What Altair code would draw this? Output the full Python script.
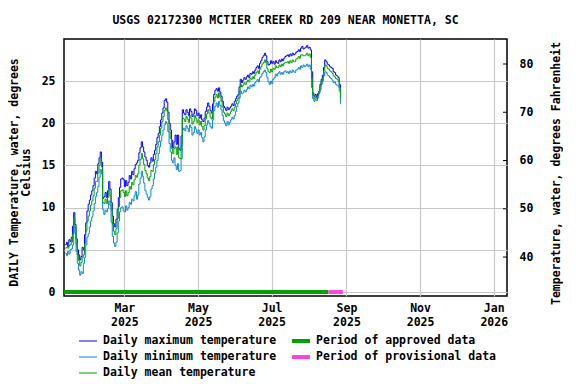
import altair as alt
import pandas as pd

# ---------------- data ----------------
first_day = "2025-01-11"
tmax = [5.6, 5.9, 5.4, 6.2, 6.0, 6.5, 7.8, 9.4, 8.0, 6.3,
        5.0, 4.4, 3.8, 4.2, 5.3, 5.0, 6.8, 8.2, 9.6, 10.4,
        10.9, 11.5, 12.0, 12.6, 13.5, 14.3, 14.0, 15.2, 15.9, 16.6,
        15.4, 11.1, 11.3, 11.8, 11.2, 12.0, 13.1, 12.2, 10.6, 9.0,
        8.1, 7.7, 8.6, 9.8, 11.2, 12.4, 13.4, 13.5, 13.3, 12.5,
        13.2, 12.6, 13.0, 13.8, 13.4, 14.3, 13.9, 14.6, 15.1, 15.3,
        15.6, 16.5, 17.1, 17.8, 17.2, 16.6, 16.0, 15.6, 15.0, 14.8,
        15.3, 15.9, 15.5, 16.3, 16.8, 17.5, 18.3, 18.8, 19.6, 20.4,
        21.2, 21.8, 22.7, 22.9, 22.5, 21.3, 20.0, 19.2, 18.0, 17.1,
        17.8, 18.6, 17.5, 18.6, 17.0, 16.8, 18.5, 21.6, 21.2, 21.0,
        21.6, 21.3, 20.9, 21.7, 21.4, 20.8, 21.1, 21.7, 21.5, 20.9,
        21.2, 20.6, 21.0, 20.4, 20.2, 20.6, 21.4, 21.9, 22.4, 22.0,
        21.5, 21.2, 22.3, 23.4, 23.9, 24.1, 23.8, 24.2, 23.7, 23.2,
        22.6, 22.0, 21.8, 21.5, 21.9, 21.6, 21.8, 22.0, 22.3, 22.1,
        22.6, 22.9, 23.2, 23.4, 24.3, 25.2, 24.8, 25.1, 25.4, 25.2,
        25.5, 25.7, 25.4, 25.9, 25.8, 26.1, 25.9, 26.3, 26.6, 26.8,
        26.5, 27.1, 27.4, 27.8, 28.0, 28.3, 28.0, 27.3, 26.9, 27.0,
        27.4, 27.1, 27.3, 27.0, 27.4, 27.2, 27.1, 27.5, 27.3, 27.6,
        27.4, 27.7, 27.9, 28.0, 28.1, 27.9, 28.2, 28.0, 28.3, 28.1,
        28.2, 28.4, 28.5, 28.7, 28.5, 28.9, 29.1, 28.8, 28.9, 29.0,
        29.2, 28.9, 29.0, 28.7, 26.1, 23.6, 23.2, 23.4, 23.1, 23.5,
        23.8, 24.6, 25.2, 25.7, 26.6, 27.5, 27.3, 27.0, 26.9, 26.7,
        26.6, 26.5, 26.1, 26.0, 25.7, 25.6, 25.4, 24.6, 23.8]
tmin = [4.6, 4.3, 4.8, 4.5, 5.0, 5.1, 5.6, 7.7, 6.9, 4.8,
        3.4, 2.6, 2.0, 2.4, 2.2, 3.4, 4.1, 5.6, 6.5, 6.9,
        7.7, 8.4, 8.9, 9.6, 10.5, 11.3, 11.8, 12.5, 13.6, 14.5,
        14.0, 9.8, 9.2, 9.7, 9.5, 9.9, 10.8, 10.3, 8.3, 6.6,
        5.8, 5.4, 5.9, 7.0, 8.4, 9.5, 10.0, 10.1, 9.6, 9.5,
        10.2, 9.7, 10.0, 10.6, 10.4, 11.0, 10.8, 11.4, 11.9, 11.0,
        11.5, 12.8, 13.5, 14.3, 13.7, 12.9, 12.0, 11.6, 11.2, 10.9,
        11.3, 12.2, 12.6, 13.4, 14.1, 14.8, 15.6, 16.4, 17.2, 17.9,
        18.6, 19.2, 19.8, 20.2, 20.0, 19.0, 17.6, 16.6, 15.6, 15.3,
        15.9, 15.0, 14.5, 15.2, 14.3, 14.4, 15.8, 19.2, 19.4, 19.1,
        19.7, 19.4, 19.0, 19.8, 19.5, 18.6, 18.9, 19.6, 19.3, 18.8,
        19.2, 18.6, 18.9, 18.3, 17.8, 18.4, 19.2, 19.8, 20.3, 20.0,
        19.6, 19.4, 20.4, 21.5, 22.0, 22.4, 21.9, 22.6, 22.1, 21.6,
        20.9, 20.3, 20.0, 19.7, 20.2, 19.8, 20.1, 20.4, 20.7, 20.5,
        20.9, 21.4, 22.0, 22.4, 23.0, 23.8, 23.5, 23.6, 23.9, 23.7,
        24.0, 24.3, 24.1, 24.5, 24.3, 24.6, 24.4, 24.8, 25.0, 25.2,
        24.9, 25.4, 25.6, 25.9, 26.1, 26.3, 26.0, 25.4, 24.9, 24.6,
        25.0, 24.7, 25.2, 25.4, 25.8, 25.6, 25.9, 26.1, 25.8, 26.0,
        25.8, 26.1, 26.2, 26.0, 26.1, 25.9, 26.2, 26.0, 26.3, 26.1,
        26.0, 26.3, 26.4, 26.6, 26.4, 26.8, 26.6, 26.9, 26.7, 26.8,
        27.0, 26.7, 26.9, 26.4, 24.2, 22.9, 22.6, 22.8, 22.7, 23.0,
        23.5, 24.0, 24.6, 25.0, 25.6, 26.1, 26.0, 25.7, 25.6, 25.4,
        25.3, 25.1, 24.8, 24.9, 24.6, 24.5, 24.4, 23.8, 22.3]
tmean = [5.2, 5.3, 5.2, 5.5, 5.6, 5.9, 6.9, 8.7, 7.6, 5.7,
         4.4, 3.7, 3.1, 3.5, 4.1, 4.4, 5.7, 7.2, 8.4, 9.0,
         9.6, 10.3, 10.8, 11.4, 12.3, 13.1, 13.1, 14.1, 15.0, 15.8,
         14.8, 10.6, 10.5, 11.0, 10.5, 11.2, 12.2, 11.4, 9.7, 8.0,
         7.2, 6.8, 7.5, 8.7, 10.1, 11.2, 12.0, 12.1, 11.8, 11.3,
         12.0, 11.4, 11.8, 12.5, 12.2, 13.0, 12.7, 13.3, 13.8, 13.6,
         14.0, 15.0, 15.7, 16.4, 15.8, 15.1, 14.4, 14.0, 13.5, 13.2,
         13.7, 14.4, 14.3, 15.1, 15.7, 16.4, 17.2, 17.8, 18.6, 19.4,
         20.2, 20.8, 21.5, 21.8, 21.5, 20.4, 19.0, 18.2, 17.0, 16.4,
         17.0, 17.2, 16.3, 17.2, 15.9, 15.8, 17.4, 20.6, 20.5, 20.2,
         20.8, 20.5, 20.1, 20.9, 20.6, 19.9, 20.2, 20.9, 20.6, 20.1,
         20.4, 19.8, 20.2, 19.6, 19.2, 19.7, 20.5, 21.1, 21.6, 21.2,
         20.7, 20.5, 21.5, 22.6, 23.1, 23.4, 23.0, 23.6, 23.1, 22.6,
         21.9, 21.3, 21.1, 20.8, 21.2, 20.9, 21.1, 21.4, 21.7, 21.5,
         21.9, 22.3, 22.7, 23.0, 23.8, 24.6, 24.3, 24.5, 24.8, 24.6,
         24.9, 25.1, 24.9, 25.3, 25.2, 25.5, 25.3, 25.7, 26.0, 26.2,
         25.9, 26.4, 26.7, 27.0, 27.2, 27.5, 27.2, 26.5, 26.1, 26.0,
         26.4, 26.1, 26.5, 26.4, 26.8, 26.6, 26.6, 26.9, 26.7, 27.0,
         26.8, 27.1, 27.2, 27.2, 27.3, 27.1, 27.4, 27.2, 27.5, 27.3,
         27.3, 27.6, 27.7, 27.9, 27.7, 28.1, 28.1, 28.0, 28.0, 28.1,
         28.3, 28.0, 28.2, 27.8, 25.3, 23.3, 22.9, 23.1, 22.9, 23.3,
         23.7, 24.4, 25.0, 25.4, 26.2, 26.9, 26.8, 26.5, 26.4, 26.2,
         26.1, 25.9, 25.6, 25.5, 25.3, 25.2, 25.0, 24.2, 23.0]

period_labels = ["Period of approved data", "Period of provisional data"]
period_start = ["2025-01-10", "2025-08-17"]
period_end = ["2025-08-17", "2025-08-29"]
period_colors = ["#00a000", "#ff44dd"]

series_labels = ["Daily maximum temperature", "Daily minimum temperature",
                 "Daily mean temperature"]
series_colors = ["#0000ff", "#0a88d0", "#00a000"]

celsius_ticks = [0, 5, 10, 15, 20, 25]
fahrenheit_ticks = [40, 50, 60, 70, 80]
month_ticks = [(2025, 3), (2025, 5), (2025, 7), (2025, 9), (2025, 11), (2026, 1)]

TITLE = "USGS 02172300 MCTIER CREEK RD 209 NEAR MONETTA, SC"

# ---------------- build ----------------
W, H = 443, 257
FONT = "DejaVu Sans Mono"
FS = 11.5

dates = pd.date_range(first_day, periods=len(tmax), freq="D").strftime("%Y-%m-%d")
long = pd.concat([
    pd.DataFrame({"date": dates, "value": vals, "series": lab})
    for vals, lab in zip([tmax, tmin, tmean], series_labels)
], ignore_index=True)

periods = pd.DataFrame({"start": period_start, "end": period_end,
                        "label": period_labels})

xscale = alt.Scale(type="utc",
                   domain=[alt.DateTime(year=2025, month=1, date=10, utc=True),
                           alt.DateTime(year=2026, month=1, date=12, utc=True)])
yscale = alt.Scale(domain=[-0.47, 29.98], nice=False, zero=False)

xaxis = alt.Axis(values=[alt.DateTime(year=y, month=m, date=1, utc=True) for y, m in month_ticks],
                 labelExpr="[utcFormat(datum.value, '%b'), utcFormat(datum.value, '%Y')]",
                 grid=True, gridColor="#c8c8c8", gridWidth=1.2,
                 ticks=False, tickSize=0, domain=False, title=None,
                 labelPadding=6, labelLineHeight=14, labelFlush=False)
yaxis = alt.Axis(values=celsius_ticks, grid=True, gridColor="#c8c8c8", gridWidth=1.2,
                 ticks=False, tickSize=0, domain=False, labelPadding=9,
                 title=["DAILY Temperature, water, degrees", "Celsius"],
                 titleLineHeight=12, titlePadding=10, titleY=133)

lines = alt.Chart(long).mark_line(strokeWidth=1, interpolate="step-after").encode(
    x=alt.X("date:T", scale=xscale, axis=xaxis),
    y=alt.Y("value:Q", scale=yscale, axis=yaxis),
    color=alt.Color("series:N", scale=alt.Scale(domain=series_labels, range=series_colors),
                    legend=None),
    order=alt.Order("series:N"),
)

bars = alt.Chart(periods).mark_rule(strokeWidth=4).encode(
    x=alt.X("start:T", scale=xscale),
    x2="end:T",
    y=alt.datum(0),
    color=alt.Color("label:N", scale=alt.Scale(domain=period_labels, range=period_colors),
                    legend=None),
)

celsius_layer = alt.layer(lines, bars).resolve_scale(color="independent")

fah = alt.Chart(pd.DataFrame({"f": fahrenheit_ticks})).mark_rule(color="black", strokeWidth=1).encode(
    y=alt.Y("f:Q", scale=alt.Scale(domain=[31.93, 85.18], nice=False, zero=False),
            axis=alt.Axis(orient="right", values=fahrenheit_ticks, grid=False,
                          ticks=False, tickSize=0, domain=False, labelPadding=12,
                          title="Temperature, water, degrees Fahrenheit",
                          titleAngle=-90, titleBaseline="top", titlePadding=18,
                          titleY=134)),
    x=alt.value(W - 4), x2=alt.value(W),
)

# manual legend
one = pd.DataFrame({"a": [0]})
legend_layers = []
rows_y = [302, 318, 334]
for i, (lab, col) in enumerate(zip(series_labels, series_colors)):
    legend_layers.append(alt.Chart(one).mark_rule(color=col, strokeWidth=1).encode(
        x=alt.value(15), x2=alt.value(33), y=alt.value(rows_y[i])))
    legend_layers.append(alt.Chart(one).mark_text(
        text=lab, align="left", baseline="middle", font=FONT, fontSize=FS,
        fontWeight="bold", color="black").encode(x=alt.value(39), y=alt.value(rows_y[i])))
for i, (lab, col) in enumerate(zip(period_labels, period_colors)):
    legend_layers.append(alt.Chart(one).mark_rule(color=col, strokeWidth=4).encode(
        x=alt.value(228), x2=alt.value(246), y=alt.value(rows_y[i])))
    legend_layers.append(alt.Chart(one).mark_text(
        text=lab, align="left", baseline="middle", font=FONT, fontSize=FS,
        fontWeight="bold", color="black").encode(x=alt.value(252), y=alt.value(rows_y[i])))

chart = alt.layer(celsius_layer, fah, *legend_layers).resolve_scale(
    y="independent", color="independent"
).properties(
    width=W, height=H,
    title=alt.TitleParams(TITLE, font=FONT, fontSize=FS, fontWeight="bold",
                          color="black", anchor="middle", offset=13),
    padding={"left": 0, "top": 6, "right": 0, "bottom": 0},
    background="white",
).configure_view(stroke="black", strokeWidth=1.5).configure_axis(
    labelFont=FONT, labelFontSize=FS, labelFontWeight="bold", labelColor="black",
    titleFont=FONT, titleFontSize=FS, titleFontWeight="bold", titleColor="black",
)

chart.save("out.html", embed_options={"renderer": "svg", "actions": False})
